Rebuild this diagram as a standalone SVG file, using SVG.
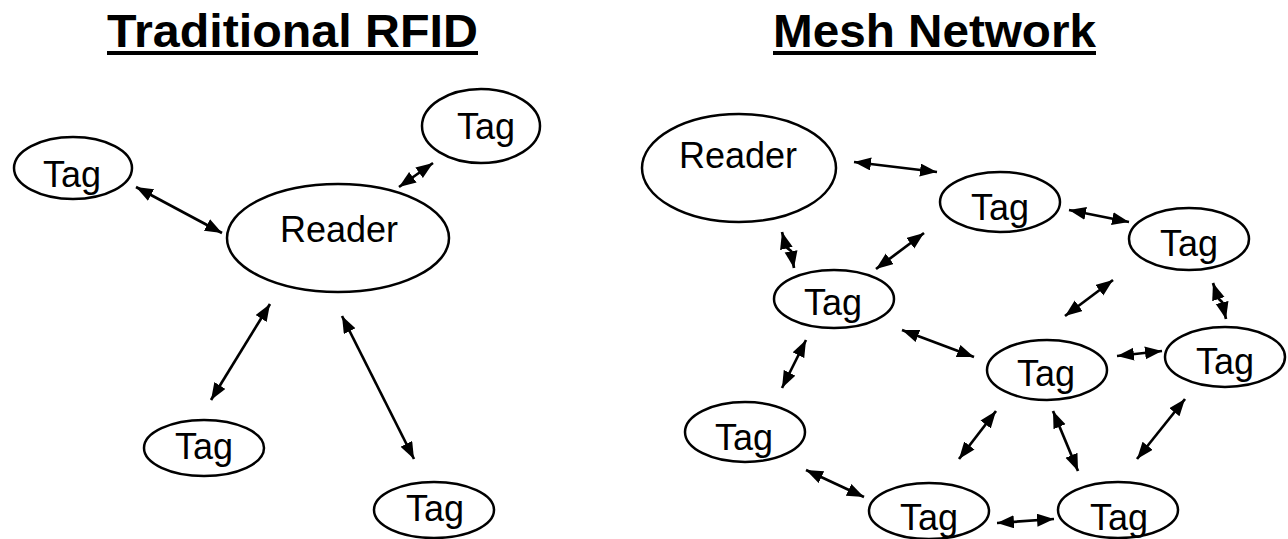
<svg xmlns="http://www.w3.org/2000/svg" width="1288" height="539" viewBox="0 0 1288 539">
<style>
.title{font-family:"Liberation Sans",Arial,sans-serif;font-weight:bold;font-size:46px;fill:#000}
.lbl{font-family:"Liberation Sans",Arial,sans-serif;font-size:36px;fill:#000;text-anchor:middle}
.node{fill:#fff;stroke:#000;stroke-width:2.5}
.edge{stroke:#000;stroke-width:2.7;fill:none;marker-start:url(#ah);marker-end:url(#ah)}
</style>
<defs>
<marker id="ah" markerUnits="userSpaceOnUse" markerWidth="18" markerHeight="14" refX="17" refY="6.5" orient="auto-start-reverse">
<path d="M0,0 L17,6.5 L0,13 z" fill="#000"/>
</marker>
</defs>
<rect width="1288" height="539" fill="#fff"/>
<g id="title-left">
<text class="title" x="107" y="47" textLength="371" lengthAdjust="spacingAndGlyphs">Traditional RFID</text>
<rect x="107" y="51" width="371" height="4" fill="#000"/>
</g>
<g id="title-right">
<text class="title" x="773" y="47" textLength="323" lengthAdjust="spacingAndGlyphs">Mesh Network</text>
<rect x="773" y="51" width="323" height="4" fill="#000"/>
</g>
<g id="connectors">
<line class="edge" x1="136" y1="187" x2="222" y2="233"/>
<line class="edge" x1="433" y1="163" x2="399" y2="187"/>
<line class="edge" x1="270" y1="304" x2="211" y2="400"/>
<line class="edge" x1="342" y1="316" x2="414" y2="459"/>
<line class="edge" x1="854" y1="162" x2="937" y2="172"/>
<line class="edge" x1="1069" y1="210" x2="1129" y2="222"/>
<polyline class="edge" points="782,232 786,247 791,251 794,268"/>
<line class="edge" x1="924" y1="233" x2="876" y2="269"/>
<line class="edge" x1="1113" y1="280" x2="1065" y2="316"/>
<polyline class="edge" points="1213,283 1218,298 1222,302 1226,319"/>
<line class="edge" x1="902" y1="330" x2="974" y2="357"/>
<line class="edge" x1="1117" y1="356" x2="1162" y2="351"/>
<line class="edge" x1="806" y1="340" x2="782" y2="388"/>
<line class="edge" x1="996" y1="411" x2="959" y2="459"/>
<line class="edge" x1="1053" y1="411" x2="1078" y2="471"/>
<line class="edge" x1="1185" y1="399" x2="1137" y2="459"/>
<line class="edge" x1="806" y1="470" x2="864" y2="497"/>
<line class="edge" x1="997" y1="523" x2="1054" y2="519"/>
</g>
<g id="l-tag-a"><ellipse class="node" cx="73" cy="168" rx="59" ry="31"/><text class="lbl" x="72" y="187">Tag</text></g>
<g id="l-reader"><ellipse class="node" cx="338" cy="238" rx="111" ry="54"/><text class="lbl" x="339" y="242">Reader</text></g>
<g id="l-tag-b"><ellipse class="node" cx="481" cy="126" rx="59" ry="37"/><text class="lbl" x="486" y="139">Tag</text></g>
<g id="l-tag-c"><ellipse class="node" cx="204" cy="448" rx="60" ry="28"/><text class="lbl" x="204" y="459">Tag</text></g>
<g id="l-tag-d"><ellipse class="node" cx="434" cy="510" rx="60" ry="28"/><text class="lbl" x="435" y="521">Tag</text></g>
<g id="m-reader"><ellipse class="node" cx="739" cy="168" rx="97" ry="54"/><text class="lbl" x="738" y="168">Reader</text></g>
<g id="m-tag-1"><ellipse class="node" cx="1000" cy="202" rx="60" ry="30"/><text class="lbl" x="1000" y="220">Tag</text></g>
<g id="m-tag-2"><ellipse class="node" cx="1189" cy="239" rx="60" ry="31"/><text class="lbl" x="1189" y="256">Tag</text></g>
<g id="m-tag-3"><ellipse class="node" cx="834" cy="299" rx="60" ry="29"/><text class="lbl" x="833" y="315">Tag</text></g>
<g id="m-tag-4"><ellipse class="node" cx="1047" cy="370" rx="60" ry="30"/><text class="lbl" x="1046" y="386">Tag</text></g>
<g id="m-tag-5"><ellipse class="node" cx="1225" cy="357" rx="60" ry="30"/><text class="lbl" x="1225" y="374">Tag</text></g>
<g id="m-tag-6"><ellipse class="node" cx="745" cy="432" rx="60" ry="30"/><text class="lbl" x="744" y="450">Tag</text></g>
<g id="m-tag-7"><ellipse class="node" cx="929" cy="511" rx="60" ry="28"/><text class="lbl" x="929" y="530">Tag</text></g>
<g id="m-tag-8"><ellipse class="node" cx="1118" cy="510" rx="60" ry="28"/><text class="lbl" x="1119" y="530">Tag</text></g>
</svg>
